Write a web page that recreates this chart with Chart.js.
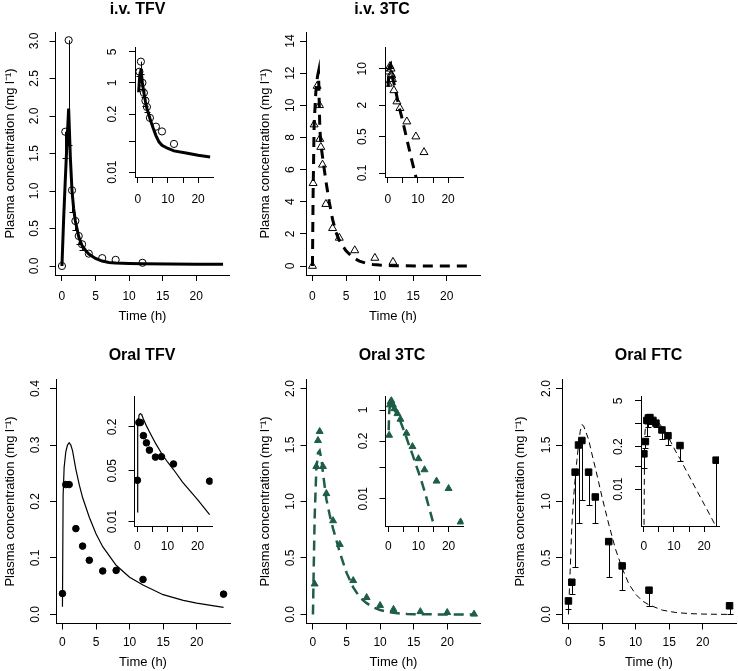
<!DOCTYPE html>
<html>
<head>
<meta charset="utf-8">
<script src="https://cdn.jsdelivr.net/npm/chart.js@4.4.1/dist/chart.umd.min.js"></script>
<style>
  html, body { margin: 0; padding: 0; background: #fff; overflow: hidden; }
  #fig { position: relative; width: 738px; height: 671px; overflow: hidden; background: #fff; }
  #fig canvas { position: absolute; }
</style>
</head>
<body>
<div id="fig"></div>
<script>
// time axis (h)
const timeTicks = [0, 5, 10, 15, 20];
const timeLabels = ['0', '5', '10', '15', '20'];
const insetTimeLabels = ['0', '', '10', '', '20'];

// i.v. TFV
const ivTfvTime = [0, 0.5, 1, 1.5, 2, 2.5, 3, 4, 6, 8, 12];
const ivTfvConc = [0, 1.79, 3.01, 1.01, 0.60, 0.40, 0.29, 0.165, 0.105, 0.082, 0.043];
const ivTfvLow = [null, 1.44, 1.62, 0.72, 0.48, 0.30, 0.22, null, null, null, null];
const ivTfvFitTime = [0, 0.25, 0.5, 0.75, 1, 1.25, 1.5, 1.75, 2, 2.5, 3, 3.5, 4, 5, 6, 7, 8, 10, 12, 16, 20, 24];
const ivTfvFitConc = [0, 0.62, 1.15, 1.65, 2.1, 1.45, 1.0, 0.76, 0.6, 0.39, 0.27, 0.21, 0.16, 0.1, 0.066, 0.048, 0.04, 0.034, 0.03, 0.027, 0.024, 0.022];
const ivTfvYTicks = [0, 0.5, 1, 1.5, 2, 2.5, 3];
const ivTfvYLabels = ['0.0', '0.5', '1.0', '1.5', '2.0', '2.5', '3.0'];
const ivTfvLogTicks = [0.01, 0.05, 0.2, 1, 5];
const ivTfvLogLabels = ['0.01', '', '0.2', '1', '5'];

// i.v. 3TC
const iv3tcTime = [0, 0.1, 0.25, 0.7, 1.05, 1.1, 1.25, 1.5, 2, 3, 4, 6.3, 9.3, 12];
const iv3tcConc = [0, 5.15, 8.8, 11.2, 10.0, 7.9, 7.4, 6.3, 3.85, 2.35, 1.75, 0.97, 0.5, 0.25];
const iv3tcFitTime = [0, 0.1, 0.25, 0.5, 0.75, 0.9, 1.1, 1.25, 1.5, 2, 2.5, 3, 3.5, 4, 4.5, 5, 6, 7, 8, 9, 10, 12, 16, 20, 24];
const iv3tcFitConc = [0, 4.5, 8.8, 10.8, 11.8, 12.1, 8.6, 7.6, 6.8, 5.3, 4.0, 2.9, 2.1, 1.6, 1.25, 0.95, 0.53, 0.3, 0.17, 0.1, 0.058, 0.02, 0.003, 0.0004, 0.00006];
const iv3tcYTicks = [0, 2, 4, 6, 8, 10, 12, 14];
const iv3tcYLabels = ['0', '2', '4', '6', '8', '10', '12', '14'];
const iv3tcLogTicks = [0.1, 0.5, 2, 10];
const iv3tcLogLabels = ['0.1', '0.5', '2', '10'];

// Oral TFV
const oralTfvTime = [0, 0.5, 1, 2, 3, 4, 6, 8, 12, 24];
const oralTfvConc = [0.037, 0.23, 0.23, 0.152, 0.121, 0.096, 0.077, 0.078, 0.062, 0.036];
const oralTfvFitTime = [0, 0.1, 0.25, 0.5, 0.75, 1, 1.25, 1.5, 2, 2.5, 3, 4, 5, 6, 8, 10, 12, 15, 18, 20, 24];
const oralTfvFitConc = [0.0135, 0.21, 0.26, 0.288, 0.3, 0.304, 0.3, 0.29, 0.257, 0.23, 0.207, 0.172, 0.143, 0.12, 0.087, 0.066, 0.052, 0.035, 0.025, 0.02, 0.0125];
const oralTfvYTicks = [0, 0.1, 0.2, 0.3, 0.4];
const oralTfvYLabels = ['0.0', '0.1', '0.2', '0.3', '0.4'];
const oralTfvLogTicks = [0.01, 0.05, 0.2];
const oralTfvLogLabels = ['0.01', '0.05', '0.2'];

// Oral 3TC
const oral3tcTime = [0.25, 0.5, 0.75, 1, 1.5, 2, 3, 4, 6, 8, 10, 12, 16, 20, 24];
const oral3tcConc = [0.27, 1.31, 1.54, 1.62, 1.31, 1.07, 0.83, 0.62, 0.30, 0.15, 0.08, 0.045, 0.025, 0.017, 0.003];
const oral3tcFitTime = [0, 0.1, 0.25, 0.5, 0.75, 1, 1.25, 1.5, 2, 2.5, 3, 4, 5, 6, 7, 8, 9, 10, 11, 12, 13, 14, 15, 16, 20, 24];
const oral3tcFitConc = [0, 0.35, 0.85, 1.28, 1.43, 1.45, 1.38, 1.25, 1.02, 0.88, 0.76, 0.55, 0.37, 0.24, 0.15, 0.1, 0.062, 0.04, 0.025, 0.015, 0.0085, 0.0048, 0.0027, 0.0015, 0.0002, 0.00003];
const oral3tcYTicks = [0, 0.5, 1, 1.5, 2];
const oral3tcYLabels = ['0.0', '0.5', '1.0', '1.5', '2.0'];
const oral3tcLogTicks = [0.01, 0.05, 0.2, 1];
const oral3tcLogLabels = ['0.01', '', '0.2', '1'];

// Oral FTC
const oralFtcTime = [0, 0.5, 1, 1.5, 2, 3, 4, 6, 8, 12, 24];
const oralFtcConc = [0.12, 0.285, 1.26, 1.50, 1.54, 1.26, 1.04, 0.645, 0.43, 0.215, 0.077];
const oralFtcLow = [0.045, 0.18, 0.42, 0.81, 1.01, 0.97, 0.81, 0.33, 0.22, 0.075, 0];
const oralFtcFitTime = [0, 0.25, 0.5, 0.75, 1, 1.25, 1.5, 1.75, 2, 2.25, 2.5, 3, 3.5, 4, 5, 6, 7, 8, 9, 10, 11, 12, 14, 16, 18, 20, 22, 24];
const oralFtcFitConc = [0.0002, 0.38, 0.78, 1.02, 1.2, 1.36, 1.5, 1.62, 1.68, 1.67, 1.63, 1.55, 1.42, 1.3, 1.04, 0.8, 0.58, 0.41, 0.27, 0.18, 0.12, 0.085, 0.038, 0.017, 0.0077, 0.0035, 0.0016, 0.0007];
const oralFtcYTicks = [0, 0.5, 1, 1.5, 2];
const oralFtcYLabels = ['0.0', '0.5', '1.0', '1.5', '2.0'];
const oralFtcLogTicks = [0.01, 0.05, 0.2, 1, 5];
const oralFtcLogLabels = ['0.01', '', '0.2', '', '5'];

const FONT = "'Liberation Sans', Arial, Helvetica, sans-serif";
const GREEN = '#1d5e45';
const TICK = 6;
const X_MIN = -0.96, X_MAX = 24.96;

Chart.defaults.font.family = FONT;
Chart.defaults.color = '#000';

const measureCtx = document.createElement('canvas').getContext('2d');
function textWidth(s, size) {
  measureCtx.font = size + 'px ' + FONT;
  return measureCtx.measureText(s).width;
}

function xy(ts, cs) {
  return ts.map((t, i) => ({ x: t, y: cs[i] }));
}

function addCanvas(box) {
  const c = document.createElement('canvas');
  c.width = box.width;
  c.height = box.height;
  c.style.left = box.left + 'px';
  c.style.top = box.top + 'px';
  c.style.width = box.width + 'px';
  c.style.height = box.height + 'px';
  document.getElementById('fig').appendChild(c);
  return c;
}

// bold panel title placed where the figure has it
const panelTitle = {
  id: 'panelTitle',
  afterDraw(chart, args, opts) {
    if (!opts || !opts.text) return;
    const ctx = chart.ctx;
    ctx.save();
    ctx.font = 'bold 16px ' + FONT;
    ctx.fillStyle = '#000';
    ctx.textAlign = 'center';
    ctx.textBaseline = 'middle';
    ctx.fillText(opts.text, opts.x, opts.y);
    ctx.restore();
  }
};

// one-sided error bars (point down to lower value, with a cap)
const errorBars = {
  id: 'errorBars',
  beforeDatasetsDraw(chart) {
    const ctx = chart.ctx;
    const area = chart.chartArea;
    const xs = chart.scales.x, ys = chart.scales.y;
    chart.data.datasets.forEach(ds => {
      if (!ds.errorLow) return;
      ctx.save();
      ctx.beginPath();
      ctx.rect(area.left, area.top - 1, area.right - area.left, area.bottom - area.top + 2);
      ctx.clip();
      ctx.strokeStyle = '#000';
      ctx.lineWidth = 1;
      ds.data.forEach((p, i) => {
        const lo = ds.errorLow[i];
        if (lo === null || lo === undefined || !(p.y > 0)) return;
        const x = Math.round(xs.getPixelForValue(p.x)) + 0.5;
        const y1 = ys.getPixelForValue(p.y);
        const y2 = Math.round(ys.getPixelForValue(lo)) + 0.5;
        ctx.beginPath();
        ctx.moveTo(x, y1);
        ctx.lineTo(x, y2);
        ctx.moveTo(x - 3, y2);
        ctx.lineTo(x + 3, y2);
        ctx.stroke();
      });
      ctx.restore();
    });
  }
};

function obsSet(p) {
  return Object.assign({
    type: 'scatter',
    data: xy(p.time, p.conc),
    errorLow: p.low || null,
    showLine: false,
    borderColor: p.obsStyle.pointBorderColor,
    backgroundColor: p.obsStyle.pointBackgroundColor
  }, p.obsStyle);
}

function fitSet(p) {
  return Object.assign({
    type: 'line',
    data: xy(p.fitTime, p.fitConc),
    pointRadius: 0,
    tension: 0,
    fill: false,
    backgroundColor: 'rgba(0,0,0,0)'
  }, p.fitStyle);
}

function makeChart(p, box, area, axis) {
  const canvas = addCanvas(box);
  const yW = area.left - box.left;
  const xH = box.top + box.height - area.bottom;
  const widest = Math.max(...axis.yLabels.map(s => textWidth(s, 12)));
  const yPad = axis.yLabelOff - TICK - widest / 2;
  const xPad = axis.xLabelOff - TICK - 7.2;

  return new Chart(canvas, {
    type: 'scatter',
    data: { datasets: [obsSet(p), fitSet(p)] },
    options: {
      responsive: false,
      animation: false,
      events: [],
      layout: {
        autoPadding: false,
        padding: { left: 0, top: area.top - box.top, right: box.left + box.width - area.right, bottom: 0 }
      },
      plugins: {
        legend: { display: false },
        tooltip: { enabled: false },
        colors: { enabled: false },
        panelTitle: axis.title ? { text: axis.title, x: axis.titleX - box.left, y: axis.titleY - box.top } : { text: '' }
      },
      scales: {
        x: {
          type: 'linear',
          min: X_MIN,
          max: X_MAX,
          bounds: 'data',
          afterBuildTicks: s => { s.ticks = timeTicks.map(v => ({ value: v })); },
          afterFit: s => { s.height = xH; },
          ticks: {
            autoSkip: false, maxRotation: 0, padding: xPad,
            font: { size: 12 }, color: '#000',
            callback: (v, i) => axis.xLabels[i]
          },
          grid: { drawOnChartArea: false, drawTicks: true, tickLength: TICK, color: '#000', lineWidth: 1 },
          border: { display: true, color: '#000', width: 1 },
          title: axis.xTitle ? {
            display: true, text: 'Time (h)', font: { size: 13 }, color: '#000',
            padding: { top: 0, bottom: box.top + box.height - axis.xTitleY - 7.8 }
          } : { display: false }
        },
        y: {
          type: axis.yType,
          min: axis.yMin,
          max: axis.yMax,
          bounds: 'data',
          afterBuildTicks: s => { s.ticks = axis.yTicks.map(v => ({ value: v })); },
          afterFit: s => { s.width = yW; },
          ticks: {
            autoSkip: false, minRotation: 90, maxRotation: 90, crossAlign: 'center', padding: yPad,
            font: { size: 12 }, color: '#000',
            callback: (v, i) => axis.yLabels[i]
          },
          grid: { drawOnChartArea: false, drawTicks: true, tickLength: TICK, color: '#000', lineWidth: 1 },
          border: { display: true, color: '#000', width: 1 },
          title: axis.yTitle ? {
            display: true, text: 'Plasma concentration (mg l\u207B\u00B9)', font: { size: 13 }, color: '#000',
            padding: { top: axis.yTitleX - box.left - 7.8, bottom: 0 }
          } : { display: false }
        }
      }
    },
    plugins: [errorBars, panelTitle]
  });
}

const openCircle = { pointStyle: 'circle', pointRadius: 3.6, pointBorderWidth: 1, pointBorderColor: '#000', pointBackgroundColor: 'rgba(0,0,0,0)' };
const openTriangle = { pointStyle: 'triangle', pointRadius: 4.6, pointBorderWidth: 1, pointBorderColor: '#000', pointBackgroundColor: 'rgba(0,0,0,0)' };
const filledCircle = { pointStyle: 'circle', pointRadius: 3.3, pointBorderWidth: 1, pointBorderColor: '#000', pointBackgroundColor: '#000' };
const filledTriangle = { pointStyle: 'triangle', pointRadius: 4, pointBorderWidth: 1, pointBorderColor: GREEN, pointBackgroundColor: GREEN };
const filledSquare = { pointStyle: 'rect', pointRadius: 4.6, pointBorderWidth: 1, pointBorderColor: '#000', pointBackgroundColor: '#000' };

const panels = [
  {
    time: ivTfvTime, conc: ivTfvConc, low: ivTfvLow, fitTime: ivTfvFitTime, fitConc: ivTfvFitConc,
    obsStyle: openCircle, fitStyle: { borderColor: '#000', borderWidth: 3 },
    main: {
      box: { left: 0, top: 0, width: 234, height: 335 }, area: { left: 55.5, top: 32, right: 229.5, bottom: 275 },
      title: 'i.v. TFV', titleX: 137.5, titleY: 10, yTitleX: 10, yLabelOff: 20.5, xLabelOff: 22, xTitleOff: 41,
      yMin: -0.12, yMax: 3.12, yTicks: ivTfvYTicks, yLabels: ivTfvYLabels
    },
    inset: {
      box: { left: 95, top: 33, width: 124, height: 176 }, area: { left: 135, top: 47, right: 213, bottom: 177 },
      xLabelOff: 22.5,
      yMin: 0.0078, yMax: 6.41, yTicks: ivTfvLogTicks, yLabels: ivTfvLogLabels
    }
  },
  {
    time: iv3tcTime, conc: iv3tcConc, fitTime: iv3tcFitTime, fitConc: iv3tcFitConc,
    obsStyle: openTriangle, fitStyle: { borderColor: '#000', borderWidth: 3, borderDash: [10, 7] },
    main: {
      box: { left: 251, top: 0, width: 233, height: 335 }, area: { left: 306, top: 32, right: 480, bottom: 275 },
      title: 'i.v. 3TC', titleX: 382, titleY: 10, yTitleX: 265, yLabelOff: 15.5, xLabelOff: 22, xTitleOff: 41,
      yMin: -0.56, yMax: 14.56, yTicks: iv3tcYTicks, yLabels: iv3tcYLabels
    },
    inset: {
      box: { left: 345, top: 33, width: 124, height: 176 }, area: { left: 385, top: 47, right: 463, bottom: 177 },
      xLabelOff: 22.5,
      yMin: 0.0838, yMax: 25.2, yTicks: iv3tcLogTicks, yLabels: iv3tcLogLabels
    }
  },
  {
    time: oralTfvTime, conc: oralTfvConc, fitTime: oralTfvFitTime, fitConc: oralTfvFitConc,
    obsStyle: filledCircle, fitStyle: { borderColor: '#000', borderWidth: 1.2 },
    main: {
      box: { left: 0, top: 335, width: 234, height: 336 }, area: { left: 56, top: 379.5, right: 230, bottom: 623.5 },
      title: 'Oral TFV', titleX: 142, titleY: 356, yTitleX: 10, yLabelOff: 20.5, xLabelOff: 19.5, xTitleOff: 38.5,
      yMin: -0.016, yMax: 0.416, yTicks: oralTfvYTicks, yLabels: oralTfvYLabels
    },
    inset: {
      box: { left: 95, top: 382, width: 124, height: 176 }, area: { left: 134.5, top: 396, right: 212.5, bottom: 526 },
      xLabelOff: 20.5,
      yMin: 0.0087, yMax: 0.533, yTicks: oralTfvLogTicks, yLabels: oralTfvLogLabels
    }
  },
  {
    time: oral3tcTime, conc: oral3tcConc, fitTime: oral3tcFitTime, fitConc: oral3tcFitConc,
    obsStyle: filledTriangle, fitStyle: { borderColor: GREEN, borderWidth: 2.5, borderDash: [10, 6] },
    main: {
      box: { left: 251, top: 335, width: 234, height: 336 }, area: { left: 306.5, top: 379.5, right: 480.5, bottom: 623.5 },
      title: 'Oral 3TC', titleX: 392, titleY: 356, yTitleX: 265.5, yLabelOff: 15.5, xLabelOff: 19.5, xTitleOff: 38.5,
      yMin: -0.08, yMax: 2.08, yTicks: oral3tcYTicks, yLabels: oral3tcYLabels
    },
    inset: {
      box: { left: 345, top: 382, width: 125, height: 176 }, area: { left: 385.5, top: 396, right: 463.5, bottom: 526 },
      xLabelOff: 20.5,
      yMin: 0.00243, yMax: 2.07, yTicks: oral3tcLogTicks, yLabels: oral3tcLogLabels
    }
  },
  {
    time: oralFtcTime, conc: oralFtcConc, low: oralFtcLow, fitTime: oralFtcFitTime, fitConc: oralFtcFitConc,
    obsStyle: filledSquare, fitStyle: { borderColor: '#000', borderWidth: 1, borderDash: [6, 4] },
    main: {
      box: { left: 507, top: 335, width: 231, height: 336 }, area: { left: 562, top: 379.5, right: 736, bottom: 623.5 },
      title: 'Oral FTC', titleX: 648.5, titleY: 356, yTitleX: 520, yLabelOff: 15.5, xLabelOff: 19.5, xTitleOff: 38.5,
      yMin: -0.08, yMax: 2.08, yTicks: oralFtcYTicks, yLabels: oralFtcYLabels
    },
    inset: {
      box: { left: 601, top: 382, width: 124, height: 176 }, area: { left: 641, top: 396.5, right: 719, bottom: 526 },
      xLabelOff: 20.5,
      yMin: 0.00075, yMax: 6.77, yTicks: oralFtcLogTicks, yLabels: oralFtcLogLabels
    }
  }
];

panels.forEach(p => {
  const m = p.main;
  makeChart(p, m.box, m.area, {
    title: m.title, titleX: m.titleX, titleY: m.titleY,
    xLabels: timeLabels, xLabelOff: m.xLabelOff, xTitle: true, xTitleY: m.area.bottom + m.xTitleOff,
    yType: 'linear', yMin: m.yMin, yMax: m.yMax, yTicks: m.yTicks, yLabels: m.yLabels,
    yLabelOff: m.yLabelOff, yTitle: true, yTitleX: m.yTitleX
  });
  const n = p.inset;
  makeChart(p, n.box, n.area, {
    title: null,
    xLabels: insetTimeLabels, xLabelOff: n.xLabelOff, xTitle: false,
    yType: 'logarithmic', yMin: n.yMin, yMax: n.yMax, yTicks: n.yTicks, yLabels: n.yLabels,
    yLabelOff: 22, yTitle: false
  });
});
</script>
</body>
</html>
